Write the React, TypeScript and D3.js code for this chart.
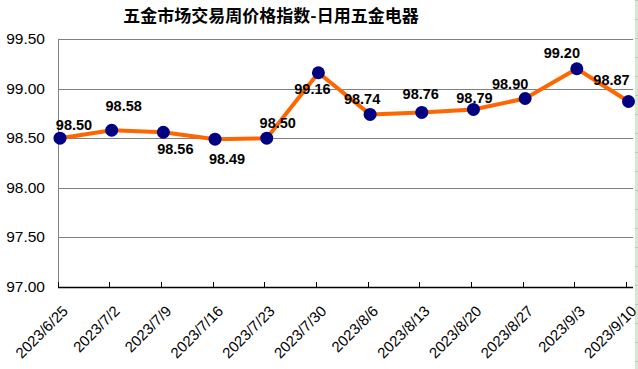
import { useEffect, useRef } from 'react';
import * as d3 from 'd3';

const dates = [
  '2023/6/25', '2023/7/2', '2023/7/9', '2023/7/16', '2023/7/23', '2023/7/30',
  '2023/8/6', '2023/8/13', '2023/8/20', '2023/8/27', '2023/9/3', '2023/9/10',
];
const values = [98.5, 98.58, 98.56, 98.49, 98.5, 99.16, 98.74, 98.76, 98.79, 98.9, 99.2, 98.87];
const yTicks = [97.0, 97.5, 98.0, 98.5, 99.0, 99.5];

// where each data label sits relative to its point (label centre x, baseline y)
const labelOffsets: Array<[number, number]> = [
  [14, -8], [12, -19], [12, 22], [12, 25], [11, -10], [-6, 21],
  [-8, -10], [-1, -13], [1, -6], [-15, -10], [-15, -11], [-17, -16],
];

const W = 638;
const H = 369;

export default function App() {
  const svgRef = useRef<SVGSVGElement | null>(null);

  useEffect(() => {
    if (!svgRef.current) return;
    const svg = d3.select(svgRef.current);
    svg.selectAll('*').remove();

    const left = 58;
    const right = 633;
    const top = 39;
    const bottom = 287;

    const x = d3.scalePoint<string>().domain(dates).range([60, 628.5]);
    const y = d3.scaleLinear().domain([97, 99.5]).range([bottom, top]);

    svg.append('rect').attr('width', W).attr('height', H).attr('fill', '#ffffff');

    // bit of spreadsheet showing at the right edge
    svg.append('rect').attr('x', 635).attr('y', 0).attr('width', 3).attr('height', H).attr('fill', '#d3ead1');
    svg
      .append('g')
      .selectAll('line')
      .data(d3.range(0, H, 19))
      .join('line')
      .attr('x1', 635)
      .attr('x2', 638)
      .attr('y1', (d) => d + 0.5)
      .attr('y2', (d) => d + 0.5)
      .attr('stroke', '#b8c8b8');

    svg
      .append('text')
      .attr('x', 271)
      .attr('y', 22)
      .attr('text-anchor', 'middle')
      .attr('font-family', '"Noto Sans CJK SC", sans-serif')
      .attr('font-weight', 'bold')
      .attr('font-size', 17)
      .attr('fill', '#000')
      .text('五金市场交易周价格指数-日用五金电器');

    // grid
    svg
      .append('g')
      .selectAll('line')
      .data(yTicks.slice(1))
      .join('line')
      .attr('x1', left)
      .attr('x2', right)
      .attr('y1', (d) => Math.round(y(d)) + 0.5)
      .attr('y2', (d) => Math.round(y(d)) + 0.5)
      .attr('stroke', '#808080');

    svg
      .append('line')
      .attr('x1', left + 0.5)
      .attr('x2', left + 0.5)
      .attr('y1', top)
      .attr('y2', bottom)
      .attr('stroke', '#808080');

    svg
      .append('g')
      .selectAll('text')
      .data(yTicks)
      .join('text')
      .attr('x', 45)
      .attr('y', (d) => y(d) + 5)
      .attr('text-anchor', 'end')
      .attr('font-family', '"Liberation Sans", Arial, sans-serif')
      .attr('font-size', 15.5)
      .attr('fill', '#000')
      .text((d) => d.toFixed(2));

    // x axis
    svg
      .append('line')
      .attr('x1', left)
      .attr('x2', right)
      .attr('y1', bottom + 0.5)
      .attr('y2', bottom + 0.5)
      .attr('stroke', '#000')
      .attr('stroke-width', 1.5);

    svg
      .append('g')
      .selectAll('line')
      .data(dates)
      .join('line')
      .attr('x1', (d) => Math.round((x(d) ?? 0) - 2.5) + 0.5)
      .attr('x2', (d) => Math.round((x(d) ?? 0) - 2.5) + 0.5)
      .attr('y1', bottom - 5)
      .attr('y2', bottom)
      .attr('stroke', '#000');

    svg
      .append('g')
      .selectAll('text')
      .data(dates)
      .join('text')
      .attr('transform', (d) => `translate(${(x(d) ?? 0) + 9},${312}) rotate(-45)`)
      .attr('text-anchor', 'end')
      .attr('font-family', '"Liberation Sans", Arial, sans-serif')
      .attr('font-size', 15)
      .attr('fill', '#000')
      .text((d) => d);

    // series
    const line = d3
      .line<number>()
      .x((_, i) => x(dates[i]) ?? 0)
      .y((d) => y(d));

    svg
      .append('path')
      .datum(values)
      .attr('d', line)
      .attr('fill', 'none')
      .attr('stroke', '#ff6600')
      .attr('stroke-width', 4)
      .attr('stroke-linejoin', 'round');

    svg
      .append('g')
      .selectAll('circle')
      .data(values)
      .join('circle')
      .attr('cx', (_, i) => x(dates[i]) ?? 0)
      .attr('cy', (d) => y(d))
      .attr('r', 6.5)
      .attr('fill', '#000080');

    svg
      .append('g')
      .selectAll('text')
      .data(values)
      .join('text')
      .attr('x', (_, i) => (x(dates[i]) ?? 0) + labelOffsets[i][0])
      .attr('y', (d, i) => y(d) + labelOffsets[i][1])
      .attr('text-anchor', 'middle')
      .attr('font-family', '"Liberation Sans", Arial, sans-serif')
      .attr('font-weight', 'bold')
      .attr('font-size', 14.5)
      .attr('fill', '#000')
      .text((d) => d.toFixed(2));
  }, []);

  return (
    <svg
      ref={svgRef}
      width={W}
      height={H}
      style={{ position: 'absolute', left: 0, top: 0 }}
    />
  );
}
